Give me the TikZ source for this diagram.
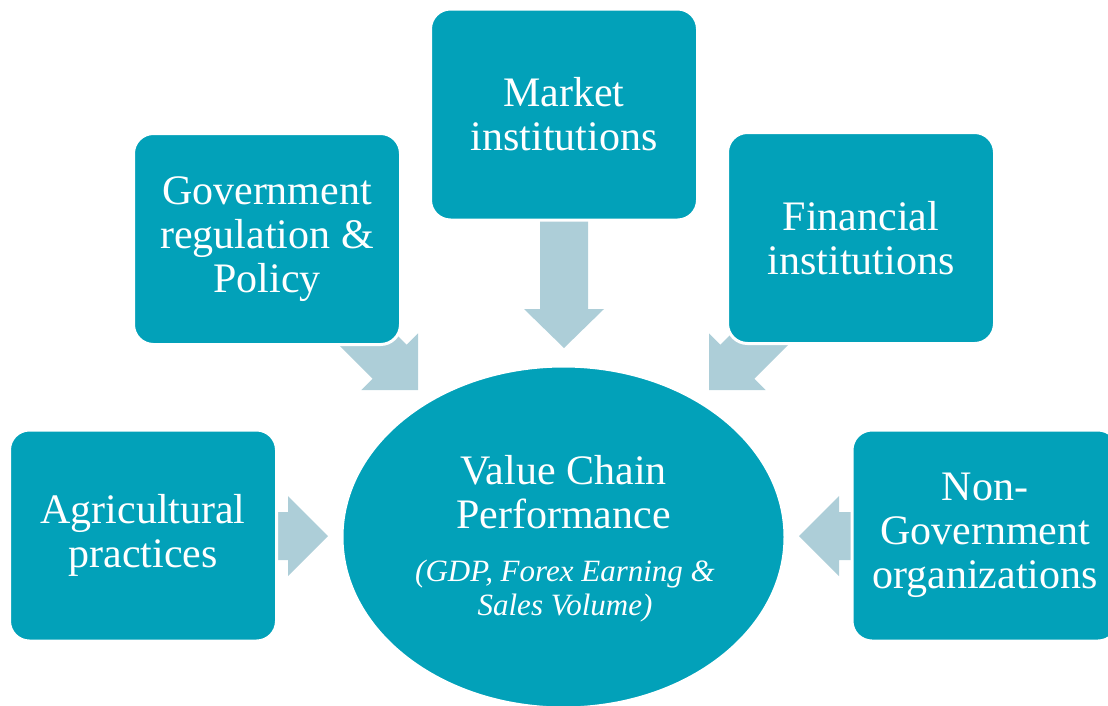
\documentclass[tikz,border=0pt]{standalone}
\usepackage{fontspec}
\setmainfont{Liberation Serif}
\usetikzlibrary{shapes.geometric}
\definecolor{tealc}{HTML}{02A1B9}
\definecolor{arrowc}{HTML}{ADCED8}
\tikzset{
  box/.style={rectangle, rounded corners=20pt, fill=tealc, draw=white, line width=3pt,
    text=white, align=center, minimum width=267pt, minimum height=211pt, inner sep=0pt,
    font=\fontsize{42}{44}\selectfont},
  blockarrow/.style={fill=arrowc, draw=none},
  vctxt/.style={text=white, align=center, inner sep=0pt}
}
\begin{document}
\begin{tikzpicture}[x=1pt,y=-1pt]
\useasboundingbox (0,0) rectangle (1108,705);
\clip (0,0) rectangle (1108,705);
% block arrows (drawn first, boxes overlap their tails)
% down arrow
\path[blockarrow] (540,215) -- (588,215) -- (588,309) -- (604,309) -- (564,348) -- (524,309) -- (540,309) -- cycle;
% right-pointing arrow (from agricultural practices)
\path[blockarrow] (270,512) -- (288,512) -- (288,496) -- (328,536) -- (288,576) -- (288,560) -- (270,560) -- cycle;
% left-pointing arrow (from NGO)
\path[blockarrow] (860,512) -- (839,512) -- (839,496) -- (799,536) -- (839,576) -- (839,560) -- (860,560) -- cycle;
% diagonal arrow from government box
\path[blockarrow] (364.3,302.3) -- (406.7,344.7) -- (418,333.4) -- (418,390) -- (361.4,390) -- (372.7,378.7) -- (330.3,336.3) -- cycle;
% diagonal arrow from financial box
\path[blockarrow] (762.7,302.3) -- (720.3,344.7) -- (709,333.4) -- (709,390) -- (765.6,390) -- (754.3,378.7) -- (796.7,336.3) -- cycle;
% boxes
\node[box] (gov) at (267,239) {Government\\regulation \&\\Policy};
\node[box] (mkt) at (564,114.5) {Market\\institutions};
\node[box] (fin) at (861,238) {Financial\\institutions};
\node[box] (agr) at (143,535.5) {Agricultural\\practices};
\node[box, minimum width=266pt] (ngo) at (985,535.5) {Non-\\Government\\organizations};
% central ellipse
\node[ellipse, fill=tealc, draw=white, line width=3pt, minimum width=443pt, minimum height=342pt, inner sep=0pt] (vc) at (563.5,537) {};
\node[vctxt, font=\fontsize{42}{44}\selectfont] (vctitle) at (563.5,492) {Value Chain\\Performance};
\node[vctxt, font=\fontsize{31}{34}\selectfont\itshape] (vcsub) at (565,591) {(GDP, Forex Earning \&\\Sales Volume)};
\end{tikzpicture}
\end{document}
